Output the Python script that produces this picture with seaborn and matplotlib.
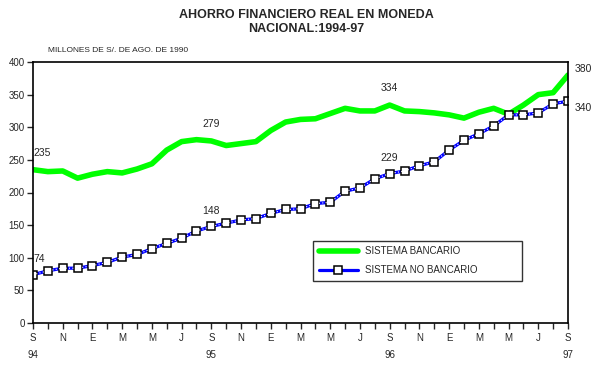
import seaborn as sns
import matplotlib.pyplot as plt
import pandas as pd

# monthly data, Sep 1994 - Sep 1997
months = ["S", "O", "N", "D", "E", "F", "M", "A", "M", "J", "J", "A"] * 3 + ["S"]
years = {0: "94", 12: "95", 24: "96", 36: "97"}

bancario = [235, 232, 233, 222, 228, 232, 230, 236, 244, 265, 278, 281,
            279, 272, 275, 278, 295, 308, 312, 313, 321, 329, 325, 325,
            334, 325, 324, 322, 319, 314, 323, 329, 320, 334, 350, 353, 380]
no_bancario = [74, 80, 84, 84, 88, 93, 101, 105, 114, 122, 130, 141,
               148, 153, 158, 160, 168, 174, 175, 183, 185, 202, 207, 221,
               229, 233, 241, 247, 265, 280, 290, 302, 319, 319, 322, 336, 340]

# labelled points: (index, text)
labels_banc = [(0, "235"), (12, "279"), (24, "334")]
labels_nob = [(0, "74"), (12, "148"), (24, "229")]

df = pd.DataFrame({"mes": range(len(months)),
                   "bancario": bancario,
                   "no_bancario": no_bancario})

sns.set_style("white")
plt.rcParams["font.family"] = ["Liberation Sans", "DejaVu Sans"]

fig = plt.figure(figsize=(6.09, 3.69), dpi=100)
ax = fig.add_axes([33 / 609, 1 - 323 / 369, 535 / 609, 261 / 369])

sns.lineplot(data=df, x="mes", y="bancario", ax=ax, color="#00ff00",
             linewidth=4, label="SISTEMA BANCARIO")
sns.lineplot(data=df, x="mes", y="no_bancario", ax=ax, color="#0000ff",
             linewidth=2.3, marker="s", markersize=6, markerfacecolor="white",
             markeredgecolor="black", markeredgewidth=1.1,
             label="SISTEMA NO BANCARIO")
# dotted white core of the blue line
ax.plot(df["mes"], df["no_bancario"], color="white", linewidth=0.8,
        linestyle=(0, (1, 2)), zorder=2.5)

ax.set_xlim(0, 36)
ax.set_ylim(0, 400)
ax.set_yticks(range(0, 401, 50))
ax.set_xticks(range(len(months)))
xt = []
for i, m in enumerate(months):
    if i % 2 == 0:
        xt.append(m + ("\n" + years[i] if i in years else ""))
    else:
        xt.append("")
ax.set_xticklabels(xt, linespacing=1.9, fontsize=7, va="top")
ax.tick_params(axis="y", labelsize=7, length=4, width=1, direction="out",
               left=True, pad=2)
ax.tick_params(axis="x", length=4, width=1, direction="out", bottom=True, pad=3)
for s in ax.spines.values():
    s.set_color("black")
    s.set_linewidth(1.2)
ax.set_xlabel("")
ax.set_ylabel("")

for i, t in labels_banc:
    ax.annotate(t, (i, bancario[i]), xytext=(0, 10), textcoords="offset points",
                fontsize=7.5, ha="left" if i == 0 else "center")
for i, t in labels_nob:
    ax.annotate(t, (i, no_bancario[i]), xytext=(0, 9), textcoords="offset points",
                fontsize=7.5, ha="left" if i == 0 else "center")
ax.annotate(str(bancario[-1]), (36, bancario[-1]), xytext=(5, 2),
            textcoords="offset points", fontsize=7.5, ha="left",
            annotation_clip=False)
ax.annotate(str(no_bancario[-1]), (36, no_bancario[-1]), xytext=(5, -7),
            textcoords="offset points", fontsize=7.5, ha="left",
            annotation_clip=False)

leg = ax.legend(loc="lower left", bbox_to_anchor=(0.514, 0.142, 0.409, 0.153),
                mode="expand", fontsize=7, frameon=True, fancybox=False,
                borderpad=0.6, handlelength=4, labelspacing=0.9)
leg.get_frame().set_edgecolor("black")
leg.get_frame().set_linewidth(1)

fig.text(0.503, 0.975, "AHORRO FINANCIERO REAL EN MONEDA\nNACIONAL:1994-97",
         ha="center", va="top", fontsize=9, fontweight="bold", linespacing=1.25)
fig.text(48 / 609, 1 - 50 / 369, "MILLONES DE S/. DE AGO. DE 1990",
         ha="left", va="center", fontsize=6)

plt.savefig("out.png", dpi=100)
